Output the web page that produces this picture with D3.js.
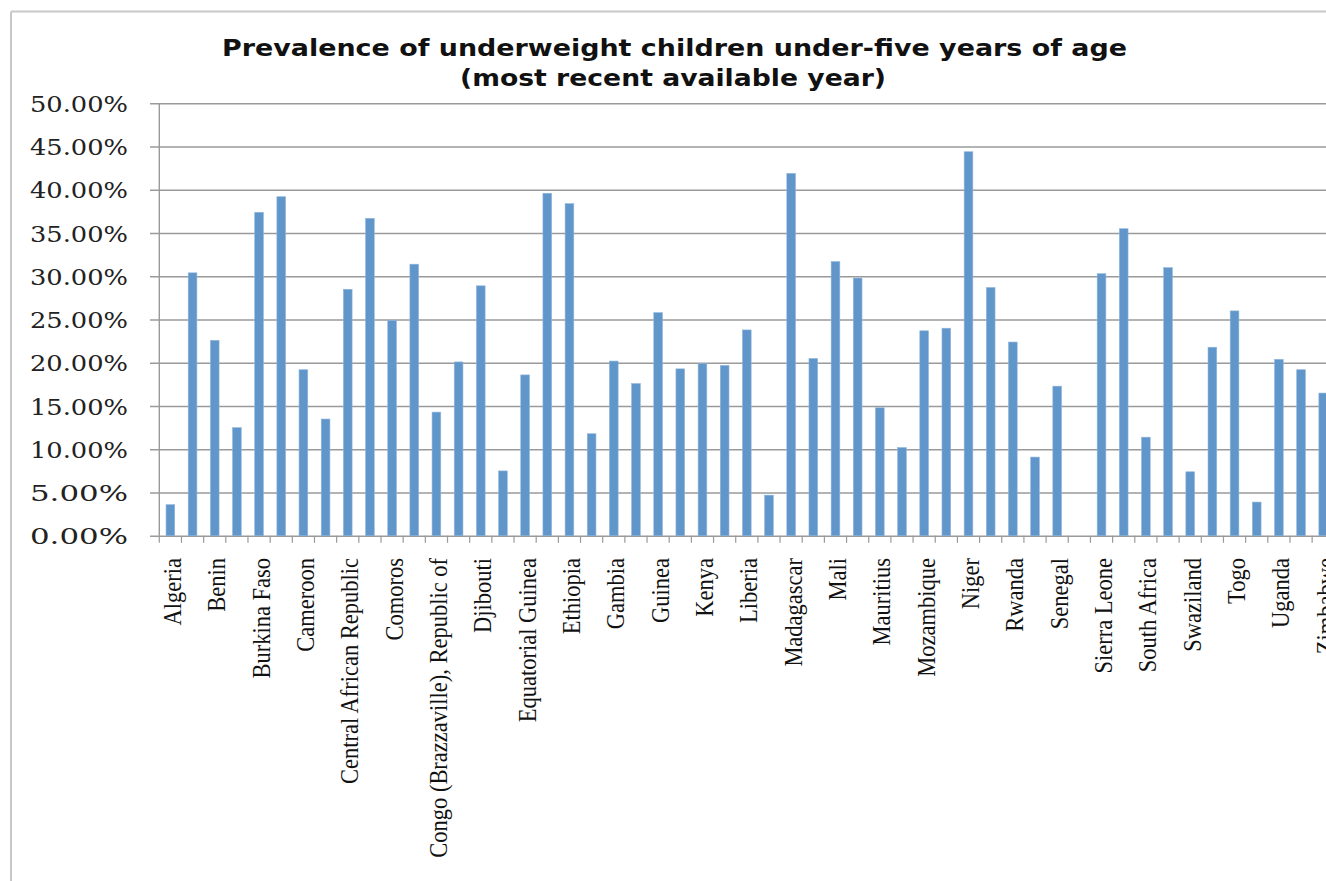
<!DOCTYPE html>
<html>
<head>
<meta charset="utf-8">
<script src="https://cdn.jsdelivr.net/npm/d3@7"></script>
<style>
  html, body { margin: 0; padding: 0; background: #fff; overflow: hidden; }
  svg { display: block; }
</style>
</head>
<body>
<svg id="chart" width="1326" height="881"></svg>
<script>
const titleLines = ["Prevalence of underweight children under-five years of age", "(most recent available year)"];

const countries = [
  "Algeria", "Angola", "Benin", "Botswana", "Burkina Faso", "Burundi", "Cameroon", "Cape Verde",
  "Central African Republic", "Chad", "Comoros", "Congo (Kinshasa), Democratic Republic of",
  "Congo (Brazzaville), Republic of", "Côte d'Ivoire", "Djibouti", "Egypt", "Equatorial Guinea",
  "Eritrea", "Ethiopia", "Gabon", "Gambia", "Ghana", "Guinea", "Guinea-Bissau", "Kenya", "Lesotho",
  "Liberia", "Libya", "Madagascar", "Malawi", "Mali", "Mauritania", "Mauritius", "Morocco",
  "Mozambique", "Namibia", "Niger", "Nigeria", "Rwanda", "Sao Tome and Principe", "Senegal",
  "Seychelles", "Sierra Leone", "Somalia", "South Africa", "Sudan", "Swaziland", "Tanzania",
  "Togo", "Tunisia", "Uganda", "Zambia", "Zimbabwe"
];

const underweightPct = [
  3.6, 30.4, 22.6, 12.5, 37.4, 39.2, 19.2, 13.5,
  28.5, 36.7, 24.9, 31.4,
  14.3, 20.1, 28.9, 7.5, 18.6,
  39.6, 38.4, 11.8, 20.2, 17.6, 25.8, 19.3, 19.9, 19.7,
  23.8, 4.7, 41.9, 20.5, 31.7, 29.8, 14.8, 10.2,
  23.7, 24.0, 44.4, 28.7, 22.4, 9.1, 17.3,
  0, 30.3, 35.5, 11.4, 31.0, 7.4, 21.8,
  26.0, 3.9, 20.4, 19.2, 16.5
];

const yTicks = [0, 5, 10, 15, 20, 25, 30, 35, 40, 45, 50];

const data = countries.map((c, i) => ({ country: c, value: underweightPct[i] }));

const svg = d3.select("#chart");
const W = 1326, H = 881;
const plotLeft = 159.3, plotTop = 103.3, plotBottom = 535.8;
const band = 22.17;
const plotRight = plotLeft + band * countries.length;

// outer border (top and left edges visible; the rest is cropped)
svg.append("line")
  .attr("x1", 11).attr("x2", W + 10).attr("y1", 11.5).attr("y2", 11.5)
  .attr("stroke", "#c8c8c8").attr("stroke-width", 2);
svg.append("line")
  .attr("x1", 11).attr("x2", 11).attr("y1", 11.5).attr("y2", H + 10)
  .attr("stroke", "#c8c8c8").attr("stroke-width", 2);

const x = d3.scaleBand().domain(countries).range([plotLeft, plotRight]).paddingInner(0).paddingOuter(0);
const y = d3.scaleLinear().domain([0, 50]).range([plotBottom, plotTop]);

// title
const title = svg.append("g");
title.append("text")
  .attr("x", 674.5).attr("y", 55.5)
  .attr("text-anchor", "middle")
  .attr("font-family", "'DejaVu Sans', sans-serif")
  .attr("font-weight", "bold")
  .attr("font-size", 23)
  .attr("textLength", 905).attr("lengthAdjust", "spacingAndGlyphs")
  .attr("fill", "#111")
  .text(titleLines[0]);
title.append("text")
  .attr("x", 673).attr("y", 86)
  .attr("text-anchor", "middle")
  .attr("font-family", "'DejaVu Sans', sans-serif")
  .attr("font-weight", "bold")
  .attr("font-size", 23)
  .attr("textLength", 426).attr("lengthAdjust", "spacingAndGlyphs")
  .attr("fill", "#111")
  .text(titleLines[1]);

// gridlines (horizontal) with left tick stubs
const yAxis = d3.axisLeft(y)
  .tickValues(yTicks)
  .tickSize(-(W - 150 + 20))
  .tickFormat(d => d.toFixed(2) + "%");

const gy = svg.append("g")
  .attr("transform", `translate(150,0)`)
  .call(yAxis);
gy.select(".domain").remove();
gy.selectAll(".tick line")
  .attr("stroke", "#9a9a9a")
  .attr("stroke-width", 1.4);
gy.selectAll(".tick text")
  .attr("x", -22)
  .attr("dy", "0.38em")
  .attr("font-family", "'DejaVu Serif', serif")
  .attr("font-size", 21.5)
  .attr("textLength", 98).attr("lengthAdjust", "spacingAndGlyphs")
  .attr("fill", "#222");

// y axis line
svg.append("line")
  .attr("x1", plotLeft).attr("x2", plotLeft)
  .attr("y1", plotTop).attr("y2", plotBottom)
  .attr("stroke", "#9a9a9a").attr("stroke-width", 1.4);

// bars
const barW = 8.7;
svg.append("g").selectAll("rect")
  .data(data)
  .join("rect")
  .attr("x", d => x(d.country) + x.bandwidth() / 2 - barW / 2)
  .attr("y", d => y(d.value))
  .attr("width", barW)
  .attr("height", d => y(0) - y(d.value))
  .attr("fill", "#6096c9")
  .attr("stroke", "#8fb6dd")
  .attr("stroke-width", 0.6);

// x axis ticks at category boundaries
const gx = svg.append("g")
  .attr("transform", `translate(0,${plotBottom})`);
gx.selectAll("line")
  .data(d3.range(countries.length + 1))
  .join("line")
  .attr("x1", i => plotLeft + i * x.step())
  .attr("x2", i => plotLeft + i * x.step())
  .attr("y1", 0).attr("y2", 7)
  .attr("stroke", "#9a9a9a").attr("stroke-width", 1.2);

// category labels (every other)
svg.append("g").selectAll("text")
  .data(data.filter((d, i) => i % 2 === 0))
  .join("text")
  .attr("transform", d => `translate(${x(d.country) + x.bandwidth() / 2 + 10.5},558) rotate(-90) scale(0.9,1)`)
  .attr("text-anchor", "end")
  .attr("font-family", "'Liberation Serif', 'Times New Roman', serif")
  .attr("font-size", 25)
  .attr("fill", "#111")
  .text(d => d.country);
</script>
</body>
</html>
